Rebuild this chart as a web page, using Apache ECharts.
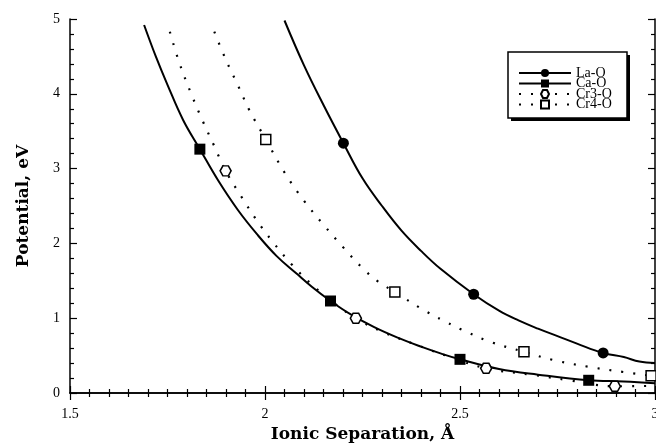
<!DOCTYPE html>
<html>
<head>
<meta charset="utf-8">
<script src="https://cdn.jsdelivr.net/npm/echarts@6/dist/echarts.min.js"></script>
<style>
html, body { margin: 0; padding: 0; background: #fff; }
#chart { width: 656px; height: 443px; }
</style>
</head>
<body>
<div id="chart"></div>
<script>
// 曲线点
var laCurve = [[2.05, 4.98], [2.10, 4.38], [2.15, 3.85], [2.25, 2.87], [2.30, 2.50], [2.35, 2.17],
    [2.40, 1.90], [2.45, 1.66], [2.60, 1.10], [2.65, 0.97], [2.70, 0.86], [2.75, 0.76], [2.80, 0.66],
    [2.92, 0.48], [2.96, 0.42], [3.0, 0.40]];
var laMarks = [[2.201, 3.34], [2.535, 1.32], [2.867, 0.535]];

var caCurve = [[1.69, 4.92], [1.72, 4.50], [1.75, 4.12], [1.79, 3.65], [1.88, 2.84], [1.93, 2.45],
    [1.98, 2.12], [2.03, 1.83], [2.08, 1.60], [2.12, 1.42], [2.22, 1.05], [2.28, 0.88], [2.34, 0.74],
    [2.40, 0.62], [2.45, 0.53], [2.60, 0.32], [2.70, 0.245], [2.92, 0.155], [3.0, 0.13]];
var caMarks = [[1.833, 3.26], [2.168, 1.23], [2.5, 0.45], [2.83, 0.17]];

var cr3Curve = [[1.756, 4.83], [1.78, 4.42], [1.81, 4.01], [1.84, 3.64], [1.87, 3.30], [1.94, 2.62],
    [1.98, 2.30], [2.02, 2.02], [2.07, 1.71], [2.12, 1.45], [2.17, 1.23], [2.30, 0.82], [2.38, 0.66],
    [2.47, 0.49], [2.69, 0.24], [2.78, 0.17], [2.98, 0.094]];
var cr3Marks = [[1.899, 2.97], [2.233, 1.0], [2.567, 0.33], [2.897, 0.09]];

var cr4Curve = [[1.87, 4.83], [1.90, 4.45], [1.93, 4.12], [1.96, 3.78], [2.05, 2.95], [2.10, 2.57],
    [2.15, 2.25], [2.20, 1.95], [2.25, 1.67], [2.29, 1.49], [2.40, 1.13], [2.46, 0.96], [2.52, 0.81],
    [2.58, 0.68], [2.74, 0.44], [2.83, 0.35], [2.92, 0.28]];
var cr4Marks = [[2.002, 3.39], [2.333, 1.35], [2.664, 0.55], [2.99, 0.23]];

var seriesNames = ['La-O', 'Ca-O', 'Cr3-O', 'Cr4-O'];

// 曲线点不画标记, 标记点画符号
function mergePts(curve, marks) {
    var pts = [];
    curve.forEach(function (p) { pts.push({ value: p, symbol: 'none' }); });
    marks.forEach(function (p) { pts.push({ value: p }); });
    pts.sort(function (a, b) { return a.value[0] - b.value[0]; });
    return pts;
}

var serif = 'Liberation Serif';
var hexPath = 'path://M-0.5,-1L0.5,-1L1,0L0.5,1L-0.5,1L-1,0Z';
var tickStyle = { color: '#000', width: 1.2 };

function makeChart(divId) {
    var myChart = echarts.init(document.getElementById(divId));
    var option = {
        animation: false,
        backgroundColor: '#fff',
        grid: {
            left: 70,
            right: 1,
            top: 19,
            bottom: 50,
            outerBoundsMode: 'none'
        },
        graphic: [{
            type: 'rect',
            z: 1,
            shape: { x: 511, y: 55, width: 119, height: 66 },
            style: { fill: '#000' }
        }, {
            type: 'rect',
            z: 2,
            shape: { x: 508, y: 52, width: 119, height: 66 },
            style: { fill: '#fff', stroke: '#000', lineWidth: 1.5 }
        }],
        legend: {
            orient: 'vertical',
            left: 518,
            top: 66,
            z: 10,
            padding: 0,
            itemWidth: 52,
            itemHeight: 10,
            itemGap: -3.5,
            textStyle: {
                fontFamily: serif,
                fontSize: 14,
                color: '#000'
            },
            data: seriesNames
        },
        xAxis: [{
            type: 'value',
            min: 1.5,
            max: 3,
            interval: 0.5,
            name: 'Ionic Separation, Å',
            nameLocation: 'middle',
            nameGap: 29,
            nameTextStyle: {
                fontFamily: 'DejaVu Serif',
                fontWeight: 'bold',
                fontSize: 17,
                color: '#000'
            },
            axisLine: { lineStyle: { color: '#000', width: 1.5 } },
            axisTick: { inside: true, length: 7, lineStyle: tickStyle },
            minorTick: { show: true, splitNumber: 10, length: 4, lineStyle: tickStyle },
            axisLabel: {
                fontFamily: serif,
                fontSize: 14,
                color: '#000',
                margin: 14,
                formatter: function (v) { return String(v); }
            },
            splitLine: { show: false }
        }, {
            type: 'value',
            position: 'top',
            min: 1.5,
            max: 3,
            interval: 0.5,
            axisLine: { lineStyle: { color: '#000', width: 1.5 } },
            axisTick: { inside: true, length: 7, lineStyle: tickStyle },
            minorTick: { show: true, splitNumber: 10, length: 4, lineStyle: tickStyle },
            axisLabel: { show: false },
            splitLine: { show: false }
        }],
        yAxis: [{
            type: 'value',
            min: 0,
            max: 5,
            interval: 1,
            name: 'Potential, eV',
            nameLocation: 'middle',
            nameGap: 38,
            nameTextStyle: {
                fontFamily: 'DejaVu Serif',
                fontWeight: 'bold',
                fontSize: 17,
                color: '#000'
            },
            axisLine: { lineStyle: { color: '#000', width: 1.5 } },
            axisTick: { inside: true, length: 7, lineStyle: tickStyle },
            minorTick: { show: true, splitNumber: 5, length: 4, lineStyle: tickStyle },
            axisLabel: {
                fontFamily: serif,
                fontSize: 14,
                color: '#000',
                margin: 10
            },
            splitLine: { show: false }
        }, {
            type: 'value',
            position: 'right',
            min: 0,
            max: 5,
            interval: 1,
            axisLine: { lineStyle: { color: '#000', width: 1.5 } },
            axisTick: { inside: true, length: 7, lineStyle: tickStyle },
            minorTick: { show: true, splitNumber: 5, length: 4, lineStyle: tickStyle },
            axisLabel: { show: false },
            splitLine: { show: false }
        }],
        series: [{
            name: 'La-O',
            type: 'line',
            symbol: 'circle',
            symbolSize: 11,
            smooth: 0.4,
            lineStyle: { color: '#000', width: 2 },
            itemStyle: { color: '#000' },
            data: mergePts(laCurve, laMarks)
        }, {
            name: 'Ca-O',
            type: 'line',
            symbol: 'rect',
            symbolSize: 11,
            smooth: 0.4,
            lineStyle: { color: '#000', width: 2 },
            itemStyle: { color: '#000' },
            data: mergePts(caCurve, caMarks)
        }, {
            name: 'Cr3-O',
            type: 'line',
            symbol: hexPath,
            symbolSize: [11, 10],
            smooth: 0.4,
            lineStyle: { color: '#000', width: 2.2, type: [2, 10] },
            itemStyle: { color: '#fff', borderColor: '#000', borderWidth: 1.5 },
            data: mergePts(cr3Curve, cr3Marks)
        }, {
            name: 'Cr4-O',
            type: 'line',
            symbol: 'rect',
            symbolSize: 10,
            smooth: 0.4,
            lineStyle: { color: '#000', width: 2.2, type: [2, 10] },
            itemStyle: { color: '#fff', borderColor: '#000', borderWidth: 1.5 },
            data: mergePts(cr4Curve, cr4Marks)
        }]
    };
    myChart.clear();
    myChart.setOption(option);
    return myChart;
}

var myChart = makeChart('chart');
</script>
</body>
</html>
